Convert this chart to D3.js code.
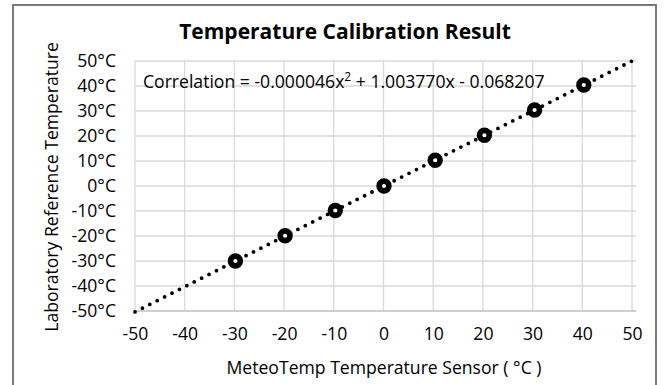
<!DOCTYPE html>
<html><head><meta charset="utf-8">
<script src="https://cdn.jsdelivr.net/npm/d3@7"></script>
<style>body{margin:0;background:#fff}svg{display:block}</style>
</head><body>
<script>
const sensorX = [-29.8, -19.8, -9.7, 0.1, 10.4, 20.3, 30.4, 40.3];
const referenceY = [-30.0, -19.9, -9.8, 0.0, 10.3, 20.3, 30.4, 40.4];
const fitCoefficients = [-0.000046, 1.003770, -0.068207];
const xTicks = [-50, -40, -30, -20, -10, 0, 10, 20, 30, 40, 50];
const yTicks = [-50, -40, -30, -20, -10, 0, 10, 20, 30, 40, 50];
const titleText = "Temperature Calibration Result";
const xTitle = "MeteoTemp Temperature Sensor ( °C )";
const yTitle = "Laboratory Reference Temperature";

const W = 665, H = 385;
const font = "'Open Sans', sans-serif";
const fs = 17.6;
const svg = d3.select("body").append("svg").attr("width", W).attr("height", H);
svg.append("rect").attr("x",13).attr("y",5).attr("width",643).attr("height",H+10)
  .attr("fill","#fff").attr("stroke","#7a7a7a").attr("stroke-width",2);

const x = d3.scaleLinear().domain([-50,50]).range([135,632]);
const y = d3.scaleLinear().domain([-50,50]).range([311,61]);

const g = svg.append("g");
g.selectAll(".vg").data(xTicks).join("line")
  .attr("x1",d=>x(d)).attr("x2",d=>x(d)).attr("y1",y(50)).attr("y2",y(-50))
  .attr("stroke","#d9d9d9").attr("stroke-width",1.3);
g.selectAll(".hg").data(yTicks).join("line")
  .attr("x1",x(-50)).attr("x2",x(50)+4).attr("y1",d=>y(d)).attr("y2",d=>y(d))
  .attr("stroke",d=>d===-50?"#bfbfbf":"#d9d9d9").attr("stroke-width",d=>d===-50?1.6:1.3);

const xAxis = d3.axisBottom(x).tickValues(xTicks).tickSize(0).tickPadding(17).tickFormat(d=>d);
const ax = svg.append("g").attr("transform",`translate(0,${y(-50)})`).call(xAxis);
ax.select(".domain").remove();
ax.selectAll("text").attr("font-family",font).attr("font-size",fs).attr("fill","#000");

const yAxis = d3.axisLeft(y).tickValues(yTicks).tickSize(0).tickPadding(19).tickFormat(d=>d+"°C");
const ay = svg.append("g").attr("transform",`translate(${x(-50)},0)`).call(yAxis);
ay.select(".domain").remove();
ay.selectAll("text").attr("font-family",font).attr("font-size",fs).attr("fill","#000");

const fit = v => fitCoefficients[0]*v*v + fitCoefficients[1]*v + fitCoefficients[2];
const trendX = d3.range(-50, 50.01, 1);
svg.append("path").datum(trendX)
  .attr("d", d3.line().x(d=>x(d)).y(d=>y(fit(d))))
  .attr("fill","none").attr("stroke","#000").attr("stroke-width",3.8)
  .attr("stroke-linecap","round").attr("stroke-dasharray","0 8.3");

svg.selectAll(".pt").data(sensorX.map((v,i)=>[v,referenceY[i]])).join("circle")
  .attr("cx",d=>x(d[0])).attr("cy",d=>y(d[1])).attr("r",4.9)
  .attr("fill","#fff").attr("stroke","#000").attr("stroke-width",5.6);

svg.append("text").attr("x",345).attr("y",39).attr("text-anchor","middle")
  .attr("font-family",font).attr("font-weight","bold").attr("font-size",21).text(titleText);
const ann = svg.append("text").attr("x",143).attr("y",88)
  .attr("font-family",font).attr("font-size",fs);
ann.append("tspan").text("Correlation = -0.000046x");
ann.append("tspan").attr("dy",-7).attr("font-size",12).text("2");
ann.append("tspan").attr("dy",7).text(" + 1.003770x - 0.068207");

svg.append("text").attr("x",384).attr("y",374).attr("text-anchor","middle")
  .attr("font-family",font).attr("font-size",fs).text(xTitle);
svg.append("text").attr("transform","translate(58,187) rotate(-90)").attr("text-anchor","middle")
  .attr("font-family",font).attr("font-size",fs).text(yTitle);
</script>
</body></html>
